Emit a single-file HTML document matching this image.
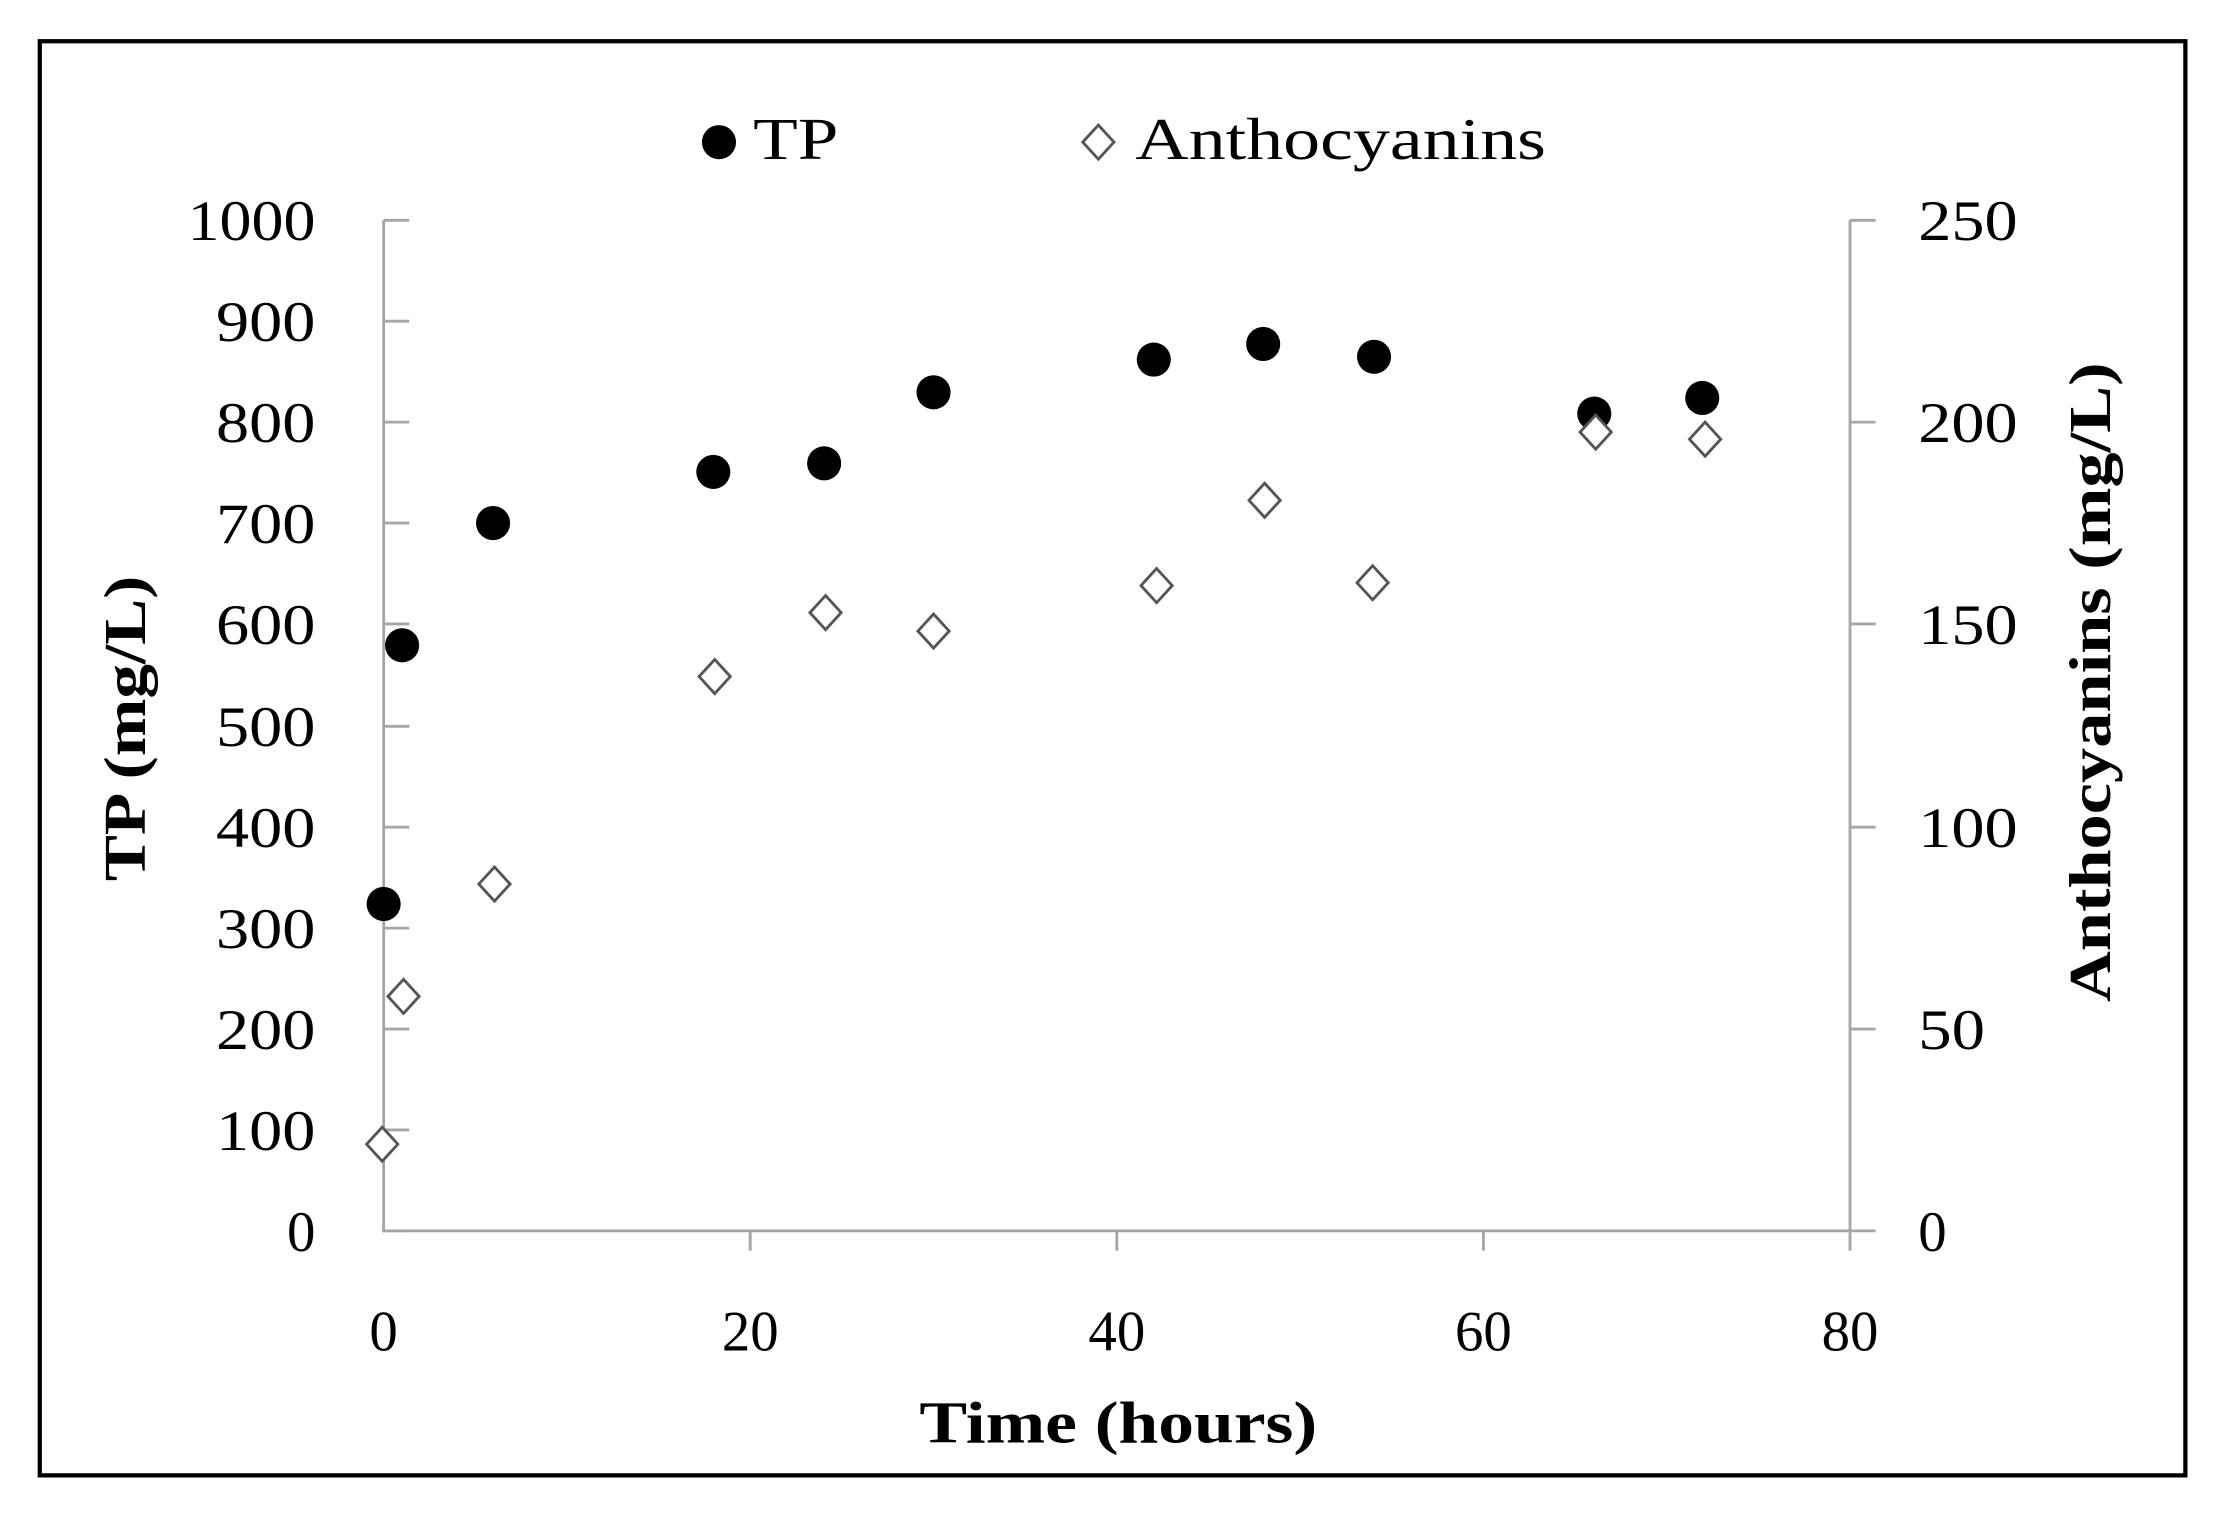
<!DOCTYPE html>
<html><head><style>html,body{margin:0;padding:0;background:#fff}svg{display:block}</style></head>
<body>
<svg width="2228" height="1518" viewBox="0 0 1568 1068" preserveAspectRatio="none" xmlns="http://www.w3.org/2000/svg" font-family="'Liberation Serif', serif">
<rect x="0" y="0" width="1568" height="1068" fill="#fff"/>
<rect x="28" y="29" width="1510" height="1009" fill="none" stroke="#000" stroke-width="3"/>
<g stroke="#a6a6a6" stroke-width="2" fill="none">
<line x1="270" y1="155" x2="270" y2="867"/>
<line x1="269" y1="866" x2="1303" y2="866"/>
<line x1="1302" y1="155" x2="1302" y2="867"/>
<path d="M270 155h18M270 226h18M270 297h18M270 368h18M270 439h18M270 511h18M270 582h18M270 653h18M270 724h18M270 795h18M270 866h18"/>
<path d="M1302 155h18M1302 297h18M1302 439h18M1302 582h18M1302 724h18M1302 866h18"/>
<path d="M528 866v14M786 866v14M1044 866v14M1302 866v14"/>
</g>
<g font-size="40" fill="#000" text-anchor="end" lengthAdjust="spacingAndGlyphs">
<text x="222" y="169" textLength="90" lengthAdjust="spacingAndGlyphs">1000</text><text x="222" y="240" textLength="70" lengthAdjust="spacingAndGlyphs">900</text><text x="222" y="311" textLength="70" lengthAdjust="spacingAndGlyphs">800</text>
<text x="222" y="382" textLength="70" lengthAdjust="spacingAndGlyphs">700</text><text x="222" y="453" textLength="70" lengthAdjust="spacingAndGlyphs">600</text><text x="222" y="525" textLength="70" lengthAdjust="spacingAndGlyphs">500</text>
<text x="222" y="596" textLength="70" lengthAdjust="spacingAndGlyphs">400</text><text x="222" y="667" textLength="70" lengthAdjust="spacingAndGlyphs">300</text><text x="222" y="738" textLength="70" lengthAdjust="spacingAndGlyphs">200</text>
<text x="222" y="809" textLength="70" lengthAdjust="spacingAndGlyphs">100</text><text x="222" y="880">0</text>
</g>
<g font-size="40" fill="#000" text-anchor="start">
<text x="1350" y="169" textLength="70" lengthAdjust="spacingAndGlyphs">250</text><text x="1350" y="311" textLength="70" lengthAdjust="spacingAndGlyphs">200</text><text x="1350" y="453" textLength="70" lengthAdjust="spacingAndGlyphs">150</text>
<text x="1350" y="596" textLength="70" lengthAdjust="spacingAndGlyphs">100</text><text x="1350" y="738" textLength="47" lengthAdjust="spacingAndGlyphs">50</text><text x="1350" y="880">0</text>
</g>
<g font-size="40" fill="#000" text-anchor="middle">
<text x="270" y="950">0</text><text x="528" y="950">20</text><text x="786" y="950">40</text>
<text x="1044" y="950">60</text><text x="1302" y="950">80</text>
</g>
<text x="647" y="1015" font-size="42" font-weight="bold" textLength="280" lengthAdjust="spacingAndGlyphs">Time (hours)</text>
<text transform="translate(102,620) rotate(-90)" font-size="42" font-weight="bold" textLength="215" lengthAdjust="spacingAndGlyphs">TP (mg/L)</text>
<text transform="translate(1485,705) rotate(-90)" font-size="42" font-weight="bold" textLength="450" lengthAdjust="spacingAndGlyphs">Anthocyanins (mg/L)</text>
<circle cx="506" cy="100" r="12" fill="#000"/>
<text x="530" y="112" font-size="42" textLength="60" lengthAdjust="spacingAndGlyphs">TP</text>
<path d="M773 88l11 12l-11 12l-11-12z" fill="#fff" stroke="#555" stroke-width="2"/>
<text x="799" y="112" font-size="42" textLength="289" lengthAdjust="spacingAndGlyphs">Anthocyanins</text>
<g fill="#000">
<circle cx="270" cy="636" r="12"/><circle cx="283" cy="454" r="12"/><circle cx="347" cy="368" r="12"/>
<circle cx="502" cy="332" r="12"/><circle cx="580" cy="326" r="12"/><circle cx="657" cy="276" r="12"/>
<circle cx="812" cy="253" r="12"/><circle cx="889" cy="242" r="12"/><circle cx="967" cy="251" r="12"/>
<circle cx="1122" cy="291" r="12"/><circle cx="1198" cy="280" r="12"/>
</g>
<g fill="#fff" stroke="#555" stroke-width="2">
<path d="M269 793l11 12l-11 12l-11-12z"/>
<path d="M284 689l11 12l-11 12l-11-12z"/>
<path d="M348 610l11 12l-11 12l-11-12z"/>
<path d="M503 464l11 12l-11 12l-11-12z"/>
<path d="M581 419l11 12l-11 12l-11-12z"/>
<path d="M657 432l11 12l-11 12l-11-12z"/>
<path d="M814 400l11 12l-11 12l-11-12z"/>
<path d="M890 340l11 12l-11 12l-11-12z"/>
<path d="M966 398l11 12l-11 12l-11-12z"/>
<path d="M1123 292l11 12l-11 12l-11-12z"/>
<path d="M1200 297l11 12l-11 12l-11-12z"/>
</g>
</svg>
</body></html>
